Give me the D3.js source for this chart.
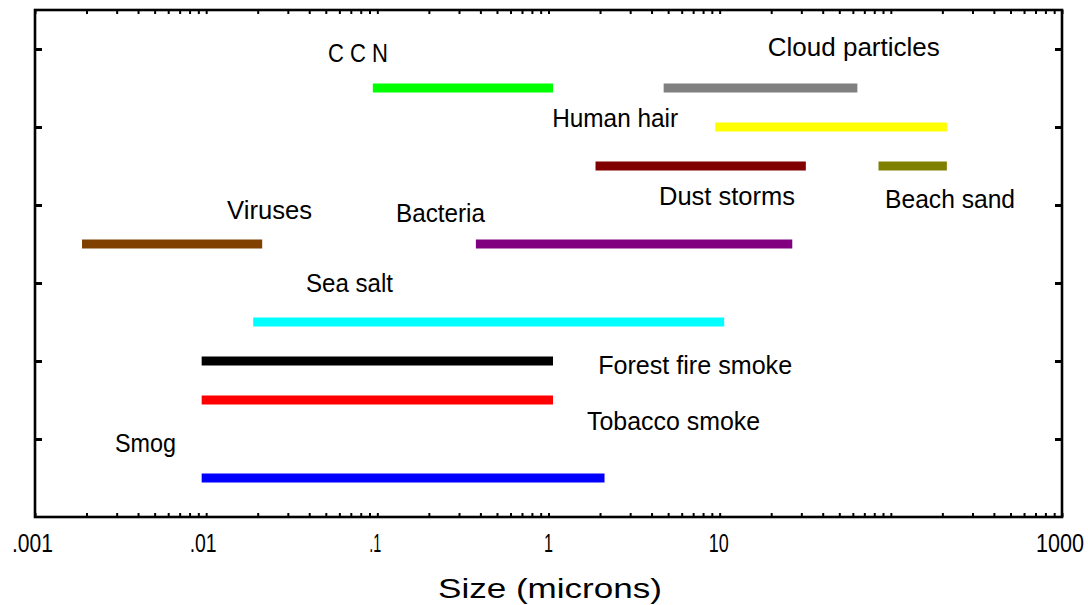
<!DOCTYPE html>
<html><head><meta charset="utf-8">
<script src="https://cdn.jsdelivr.net/npm/d3@7"></script>
<style>body{margin:0;background:#fff}svg{display:block}</style>
</head><body><svg id="c" width="1088" height="605"></svg>
<script>
// ---- data ----
const categories = ["Smog","Tobacco smoke","Forest fire smoke","Sea salt","Viruses","Bacteria","Dust storms","Beach sand","Human hair","CCN","Cloud particles"];
const minSize = [0.01, 0.01, 0.01, 0.02, 0.002, 0.4, 2, 90, 10, 0.1, 5];
const maxSize = [2, 1, 1, 10, 0.02, 25, 30, 200, 200, 1, 60];
const rowLevel = [0.5, 1.5, 2, 2.5, 3.5, 3.5, 4.5, 4.5, 5, 5.5, 5.5];
const labelTexts = ["Smog","Tobacco smoke","Forest fire smoke","Sea salt","Viruses","Bacteria","Dust storms","Beach sand","Human hair","C C N","Cloud particles"];
const tickValuesMajor = [0.001, 0.01, 0.1, 1, 10, 1000];
const tickLabels = [".001", ".01", ".1", "1", "10", "1000"];
const yTicks = [1, 2, 3, 4, 5, 6];
const xTitle = "Size (microns)";

// ---- style / layout ----
const colors = ["#0000ff","#ff0000","#000000","#00ffff","#804000","#800080","#800000","#808000","#ffff00","#00ff00","#808080"];
// label anchors expressed in data units (size, level)
const labelAnchorX = [0.00293, 1.68, 1.95, 0.0383, 0.01325, 0.1285, 4.42, 92.5, 1.05, 0.0515, 19.1];
const labelAnchorY = [0.833, 1.115, 1.833, 2.885, 3.82, 3.78, 4.0, 3.96, 5.0, 5.83, 5.91];
const labelWidths = [61, 173, 194, 87, 85, 89, 136, 130, 126, 60, 172];
const tickLabelWidths = [41, 27, 12, 9, 20, 48];
const tickLabelShift = [-2.5, -3, -2, 0, -1, -2];

const L = 35, R = 1062, T = 10, B = 517;
const font = "'Liberation Sans', Arial, sans-serif";

const svg = d3.select("#c");
const x = d3.scaleLog().domain([0.001, 1000]).range([L, R]);
const y = d3.scaleLinear().domain([0, 6.5]).range([B, T]);

// bars
svg.append("g").selectAll("line").data(categories).join("line")
  .attr("x1", (d, i) => x(minSize[i]))
  .attr("x2", (d, i) => x(maxSize[i]))
  .attr("y1", (d, i) => y(rowLevel[i]))
  .attr("y2", (d, i) => y(rowLevel[i]))
  .attr("stroke", (d, i) => colors[i])
  .attr("stroke-width", 9)
  .attr("stroke-linecap", "square");

// ticks
const allTicks = x.ticks();
const gb = svg.append("g").attr("transform", `translate(0,${B})`)
  .call(d3.axisBottom(x).tickValues(allTicks).tickSize(-4).tickFormat(""));
const gt = svg.append("g").attr("transform", `translate(0,${T})`)
  .call(d3.axisTop(x).tickValues(allTicks).tickSize(-4).tickFormat(""));
const gl = svg.append("g").attr("transform", `translate(${L},0)`)
  .call(d3.axisLeft(y).tickValues(yTicks).tickSize(-7).tickFormat(""));
const gr = svg.append("g").attr("transform", `translate(${R},0)`)
  .call(d3.axisRight(y).tickValues(yTicks).tickSize(-7).tickFormat(""));
[gb, gt].forEach(g => { g.select(".domain").remove(); g.selectAll(".tick line").attr("stroke", "#000").attr("stroke-width", 2); });
[gl, gr].forEach(g => { g.select(".domain").remove(); g.selectAll(".tick line").attr("stroke", "#000").attr("stroke-width", 3); });

// frame
svg.append("rect").attr("x", L).attr("y", T).attr("width", R - L).attr("height", B - T)
  .attr("fill", "none").attr("stroke", "#000").attr("stroke-width", 2.6);

// tick labels
svg.append("g").selectAll("text").data(tickValuesMajor).join("text")
  .attr("x", (d, i) => x(d) + tickLabelShift[i]).attr("y", 552)
  .attr("text-anchor", "middle")
  .attr("font-family", font).attr("font-size", 25).attr("fill", "#000")
  .attr("textLength", (d, i) => tickLabelWidths[i]).attr("lengthAdjust", "spacingAndGlyphs")
  .text((d, i) => tickLabels[i]);

// bar labels
svg.append("g").selectAll("text").data(labelTexts).join("text")
  .attr("x", (d, i) => x(labelAnchorX[i]))
  .attr("y", (d, i) => y(labelAnchorY[i]))
  .attr("font-family", font).attr("font-size", 25).attr("fill", "#000")
  .attr("textLength", (d, i) => labelWidths[i]).attr("lengthAdjust", "spacingAndGlyphs")
  .text(d => d);

// axis title
svg.append("text").attr("x", 550).attr("y", 598).attr("text-anchor", "middle")
  .attr("font-family", font).attr("font-size", 28).attr("fill", "#000")
  .attr("textLength", 224).attr("lengthAdjust", "spacingAndGlyphs")
  .text(xTitle);
</script>
</body></html>
